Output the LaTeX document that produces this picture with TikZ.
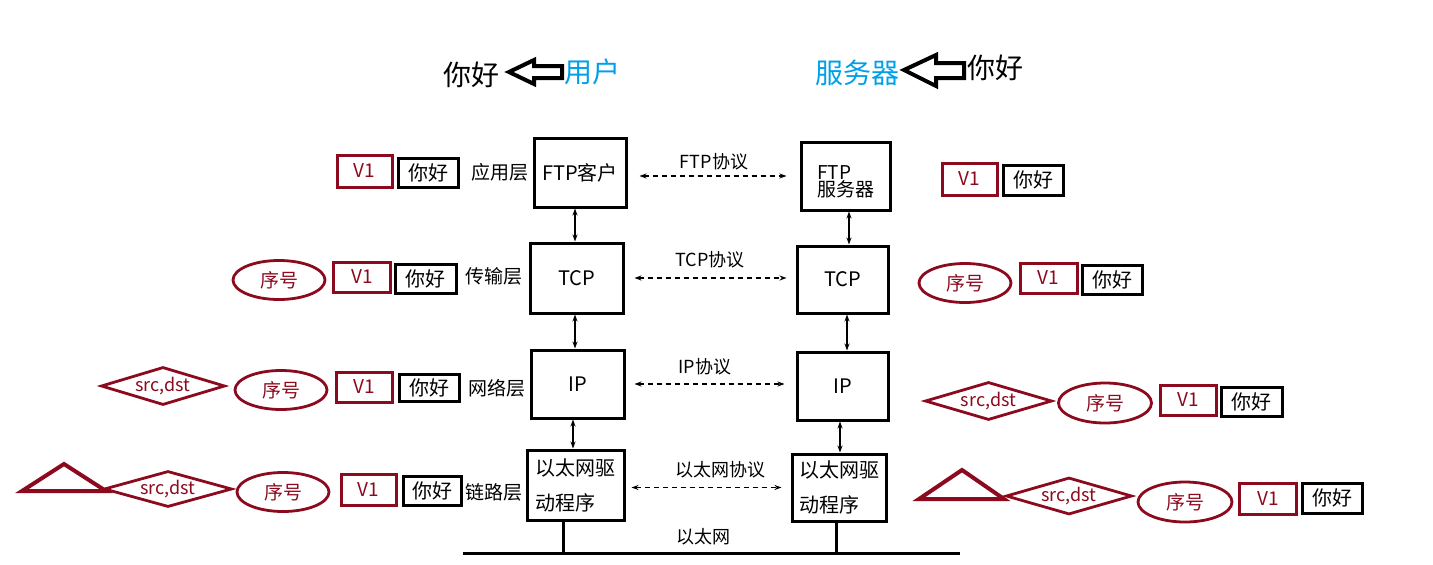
\documentclass[tikz,border=0pt]{standalone}
\usepackage{fontspec}
\setmainfont{Noto Sans CJK SC}
\usetikzlibrary{shapes.geometric,arrows.meta}
\definecolor{dred}{RGB}{140,10,30}
\definecolor{ublue}{RGB}{0,160,233}
\begin{document}
\begin{tikzpicture}[x=1pt,y=-1pt,
  stackbox/.style={draw, line width=3pt, inner sep=0pt, font=\fontsize{20}{22}\selectfont},
  ethbox/.style={stackbox, align=left, font=\fontsize{20}{35}\selectfont},
  redbox/.style={draw=dred, line width=3pt, inner sep=0pt, text=dred, font=\fontsize{19}{22}\selectfont},
  blkbox/.style={draw, line width=3pt, inner sep=0pt, font=\fontsize{20}{22}\selectfont},
  seqell/.style={ellipse, draw=dred, line width=2.8pt, inner sep=0pt, text=dred, minimum width=92, minimum height=39, font=\fontsize{19}{22}\selectfont},
  sdia/.style={diamond, draw=dred, line width=2.8pt, inner sep=0pt, text=dred, shape aspect=3.4, font=\fontsize{18}{22}\selectfont},
  tri/.style={draw=dred, line width=4pt, line join=miter},
  lay/.style={font=\fontsize{19}{22}\selectfont},
  proto/.style={font=\fontsize{18}{22}\selectfont},
  big/.style={font=\fontsize{28}{32}\selectfont},
  darr/.style={dashed, dash pattern=on 5pt off 4pt, line width=1.3pt, {Stealth[length=7pt,width=5pt]}-{Stealth[length=7pt,width=5pt]}},
  varr/.style={line width=1.3pt, {Stealth[length=7pt,width=5pt]}-{Stealth[length=7pt,width=5pt]}},
  hollow/.style={draw, line width=4pt, fill=white, line join=miter}
]
\useasboundingbox (0,0) rectangle (1433,565);

% top titles
\node[big] (hiL) at (471,75) {你好};
\node[big, text=ublue] (user) at (592,72) {用户};
\draw[hollow] (509,72) -- (534,60) -- (534,66) -- (562,66) -- (562,78) -- (534,78) -- (534,84) -- cycle;
\node[big, text=ublue] (srv) at (857,73) {服务器};
\draw[hollow] (904,70) -- (936,55) -- (936,63) -- (964,63) -- (964,78) -- (936,78) -- (936,86) -- cycle;
\node[big] (hiR) at (995,68) {你好};

% left stack
\node[stackbox, minimum width=92, minimum height=69] (ftpL) at (580,172.5) {FTP客户};
\node[stackbox, minimum width=93, minimum height=70] (tcpL) at (576.5,278) {TCP};
\node[stackbox, minimum width=93, minimum height=68] (ipL) at (577.5,384) {IP};
\node[ethbox, minimum width=97, minimum height=70] (ethL) at (575.5,485) {以太网驱\\动程序};

% right stack
\node[stackbox, minimum width=89, minimum height=68] (ftpR) at (845.5,176) {};
\node[align=left, inner sep=0pt, font=\fontsize{19}{17}\selectfont] (ftpRt) at (846,182) {FTP\\服务器};
\node[stackbox, minimum width=91, minimum height=67] (tcpR) at (842.5,279.5) {TCP};
\node[stackbox, minimum width=91, minimum height=68] (ipR) at (842.5,386) {IP};
\node[ethbox, minimum width=94, minimum height=67] (ethR) at (839,487.5) {以太网驱\\动程序};

% vertical arrows
\coordinate (cL1) at (575,0);
\coordinate (cL2) at (573,0);
\coordinate (cR1) at (849,0);
\coordinate (cR2) at (847,0);
\coordinate (cR3) at (840,0);
\draw[varr] (ftpL.south -| cL1) -- (tcpL.north -| cL1);
\draw[varr] (tcpL.south -| cL1) -- (ipL.north -| cL1);
\draw[varr] (ipL.south -| cL2) -- (ethL.north -| cL2);
\draw[varr] (ftpR.south -| cR1) -- (tcpR.north -| cR1);
\draw[varr] (tcpR.south -| cR2) -- (ipR.north -| cR2);
\draw[varr] (ipR.south -| cR3) -- (ethR.north -| cR3);

% protocol arrows
\draw[darr, shorten <=12pt, shorten >=13pt] (ftpL.east |- ftpR.west) -- (ftpR.west);
\draw[darr, shorten <=10pt, shorten >=9pt] (tcpL.east) -- (tcpR.west |- tcpL.east);
\draw[darr, shorten <=9pt, shorten >=11pt] (ipL.east) -- (ipR.west |- ipL.east);
\draw[darr, shorten <=6pt, shorten >=9pt] (ethL.east |- ethR.west) -- (ethR.west);
\node[proto] (pftp) at (714,162) {FTP协议};
\node[proto] (ptcp) at (710,260) {TCP协议};
\node[proto] (pip) at (705,367) {IP协议};
\node[proto] (peth) at (720,470) {以太网协议};

% ethernet bus
\coordinate (busA) at (463,553);
\coordinate (busB) at (960,553);
\coordinate (tapL) at (563,553);
\coordinate (tapR) at (836,553);
\draw[line width=3pt] (busA) -- (busB);
\draw[line width=3pt] (ethL.south -| tapL) -- (tapL);
\draw[line width=3pt] (ethR.south -| tapR) -- (tapR);
\node[proto] (bus) at (703,537) {以太网};

% layer labels
\node[lay] (l1) at (500,172) {应用层};
\node[lay] (l2) at (494,276) {传输层};
\node[lay] (l3) at (497,388) {网络层};
\node[lay] (l4) at (494,492) {链路层};

% left packets
\node[redbox, minimum width=55, minimum height=32] (aV1) at (364.5,171) {V1};
\node[blkbox, minimum width=60, minimum height=29] (aD1) at (428,172.5) {你好};

\node[seqell] (bS) at (279,280) {序号};
\node[redbox, minimum width=57, minimum height=30] (bV1) at (362,277) {V1};
\node[blkbox, minimum width=61, minimum height=29] (bD1) at (425.5,278.5) {你好};

\node[sdia, minimum width=124, minimum height=38] (cA) at (163,386) {src,dst};
\node[seqell] (cS) at (281,390) {序号};
\node[redbox, minimum width=56, minimum height=30] (cV1) at (364.5,387) {V1};
\node[blkbox, minimum width=60, minimum height=27] (cD1) at (429,387.5) {你好};

\draw[tri] (22,491) -- (64,464) -- (106,491) -- cycle;
\node[sdia, minimum width=128, minimum height=36] (dA) at (168,489) {src,dst};
\node[seqell] (dS) at (283,492) {序号};
\node[redbox, minimum width=55, minimum height=31] (dV1) at (368.5,489.5) {V1};
\node[blkbox, minimum width=58, minimum height=29] (dD1) at (432,490.5) {你好};

% right packets
\node[redbox, minimum width=55, minimum height=32] (eV1) at (969.5,179) {V1};
\node[blkbox, minimum width=60, minimum height=30] (eD1) at (1033,180) {你好};

\node[seqell] (fS) at (965,283) {序号};
\node[redbox, minimum width=57, minimum height=30] (fV1) at (1048.5,278) {V1};
\node[blkbox, minimum width=60, minimum height=29] (fD1) at (1112,279.5) {你好};

\node[sdia, minimum width=127, minimum height=38] (gA) at (988.5,401) {src,dst};
\node[seqell, minimum width=93, minimum height=40] (gS) at (1105,403) {序号};
\node[redbox, minimum width=56, minimum height=30] (gV1) at (1188,400) {V1};
\node[blkbox, minimum width=61, minimum height=29] (gD1) at (1251.5,401.5) {你好};

\draw[tri] (919,499) -- (962,470) -- (1004,499) -- cycle;
\node[sdia, minimum width=126, minimum height=37] (hA) at (1069,496) {src,dst};
\node[seqell, minimum width=94, minimum height=40] (hS) at (1185,502) {序号};
\node[redbox, minimum width=57, minimum height=31] (hV1) at (1268,498.5) {V1};
\node[blkbox, minimum width=60, minimum height=30] (hD1) at (1332,498) {你好};
\end{tikzpicture}
\end{document}
